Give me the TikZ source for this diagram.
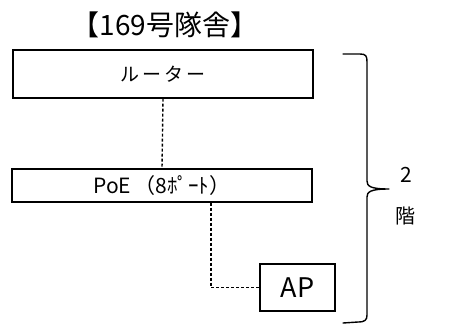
\documentclass[tikz,border=0pt]{standalone}
\usepackage{fontspec}
\setmainfont{Noto Sans CJK JP}
\begin{document}
\begin{tikzpicture}[x=1pt,y=-1pt,
  box/.style={draw=black,line width=1.3pt,inner sep=0pt,anchor=center},
  link/.style={draw=black,line width=1.4pt,dash pattern=on 3pt off 2pt},
  brace/.style={draw=black,line width=1.4pt,line cap=round,line join=round}]
\useasboundingbox (0,0) rectangle (450,325);
\node[anchor=center] (title) at (165,25) {\fontsize{28}{32}\selectfont 【169号隊舎】};
\node[box,minimum width=300pt,minimum height=48pt] (router) at (163,74) {\fontsize{19}{22}\selectfont ル\,ー\,タ\,ー};
\node[box,minimum width=300pt,minimum height=33pt] (poe) at (162,185.5) {\fontsize{21}{24}\selectfont PoE\,（8ﾎﾟｰﾄ）};
\node[box,minimum width=75pt,minimum height=47pt] (ap) at (297.5,287.5) {\fontsize{27}{30}\selectfont AP};
\coordinate (bend) at (211,287.5);
\draw[link] (router.south) -- (poe.north);
\draw[link] (poe.south -| bend) -- (bend) -- (ap.west);
\draw[brace] (343,54) -- (360,54) .. controls (366,54) and (367,56) .. (367,62)
  -- (367,181) .. controls (367,186) and (370,189) .. (389,189)
  .. controls (370,189) and (367,192) .. (367,197)
  -- (367,315) .. controls (367,320) and (365,322) .. (358,322) -- (343,323);
\node[anchor=center] (two) at (406,175) {\fontsize{21}{24}\selectfont 2};
\node[anchor=center] (kai) at (405,216) {\fontsize{20}{24}\selectfont 階};
\end{tikzpicture}
\end{document}
